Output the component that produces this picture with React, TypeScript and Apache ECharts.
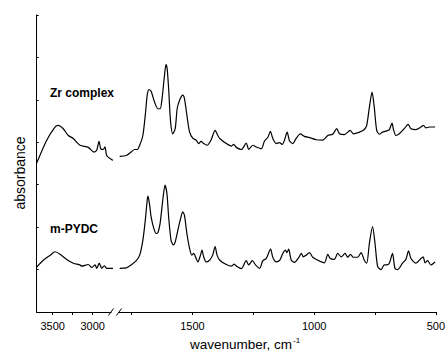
import React, { useEffect, useRef } from "react";
import * as echarts from "echarts";

// wavenumber (cm-1) and absorbance (offset, arbitrary units)
const zrLeftWn = [3700, 3575, 3471, 3430, 3368, 3305, 3243, 3159, 3055, 2984, 2950, 2921, 2900, 2868, 2846, 2825, 2762, 2742];
const zrLeftAbs = [3.51, 4.05, 4.36, 4.4, 4.32, 4.16, 4.09, 3.93, 3.88, 3.77, 3.81, 4.02, 3.85, 3.83, 3.89, 3.69, 3.59, 3.58];

const zrRightWn = [1799, 1772, 1752, 1738, 1727, 1717, 1704, 1694, 1686, 1679, 1670, 1656, 1642, 1633, 1625, 1615, 1609, 1604, 1598, 1590,
  1581, 1571, 1563, 1553, 1540, 1533, 1523, 1512, 1498, 1485, 1475, 1465, 1454, 1440, 1424, 1407, 1396, 1388, 1361, 1340,
  1331, 1320, 1299, 1279, 1269, 1252, 1238, 1217, 1204, 1190, 1180, 1170, 1156, 1142, 1131, 1122, 1111, 1101, 1088, 1074,
  1057, 1040, 1019, 992, 965, 944, 924, 907, 896, 876, 852, 839, 814, 794, 784, 773, 762, 753, 743, 732,
  719, 702, 691, 680, 674, 664, 650, 630, 614, 602, 582, 561, 551, 541, 525, 503];
const zrRightAbs = [3.67, 3.69, 3.77, 3.83, 3.83, 3.93, 4.16, 4.64, 5.11, 5.24, 5.2, 4.95, 4.79, 4.79, 5.03, 5.58, 5.83, 5.73, 5.26, 4.48,
  4.2, 4.32, 4.79, 4.99, 5.11, 5.03, 4.64, 4.24, 4.09, 4.05, 3.97, 4.02, 3.97, 3.93, 4.05, 4.28, 4.16, 4.09, 3.97, 3.91,
  3.95, 3.88, 3.83, 3.98, 3.83, 3.93, 3.89, 3.85, 4.03, 4.12, 4.26, 4.09, 3.97, 3.99, 3.95, 4.05, 4.24, 4.03, 3.97, 4.09,
  4.2, 4.14, 4.11, 4.06, 4.05, 4.16, 4.19, 4.32, 4.2, 4.18, 4.28, 4.2, 4.24, 4.3, 4.4, 4.83, 5.18, 4.83, 4.28, 4.19,
  4.24, 4.27, 4.3, 4.45, 4.3, 4.16, 4.2, 4.32, 4.42, 4.32, 4.3, 4.36, 4.4, 4.34, 4.36, 4.36];

const pyLeftWn = [3700, 3617, 3529, 3471, 3408, 3325, 3242, 3159, 3138, 3055, 3012, 2971, 2950, 2918, 2888, 2855, 2825, 2742];
const pyLeftAbs = [1.06, 1.22, 1.34, 1.42, 1.36, 1.24, 1.15, 1.11, 1.08, 1.12, 1.05, 1.11, 1.03, 1.15, 1.03, 1.09, 1.03, 1.03];

const pyRightWn = [1799, 1772, 1752, 1731, 1717, 1704, 1694, 1686, 1683, 1676, 1670, 1659, 1649, 1642, 1633, 1622, 1613, 1605, 1598, 1588,
  1579, 1571, 1560, 1549, 1540, 1533, 1523, 1512, 1503, 1495, 1485, 1478, 1467, 1461, 1454, 1444, 1430, 1417, 1407, 1399,
  1388, 1361, 1340, 1329, 1317, 1299, 1279, 1269, 1254, 1241, 1224, 1211, 1197, 1179, 1170, 1156, 1141, 1129, 1118, 1112,
  1105, 1094, 1081, 1063, 1053, 1044, 1033, 1019, 1006, 985, 958, 944, 934, 917, 903, 889, 873, 862, 851, 839,
  821, 807, 794, 784, 773, 760, 750, 739, 725, 712, 702, 691, 678, 668, 657, 637, 623, 612, 602, 582,
  561, 552, 544, 534, 520, 503];
const pyRightAbs = [1.03, 1.04, 1.11, 1.21, 1.34, 1.69, 2.16, 2.64, 2.73, 2.52, 2.24, 1.97, 1.85, 1.87, 2.09, 2.64, 2.99, 2.79, 2.24, 1.69,
  1.58, 1.65, 1.93, 2.2, 2.36, 2.28, 1.85, 1.5, 1.34, 1.38, 1.26, 1.18, 1.34, 1.46, 1.3, 1.18, 1.22, 1.34, 1.54, 1.34,
  1.22, 1.12, 1.08, 1.13, 1.07, 1.02, 1.21, 1.11, 1.21, 1.11, 1.03, 1.21, 1.26, 1.48, 1.29, 1.18, 1.22, 1.38, 1.46, 1.4,
  1.48, 1.22, 1.17, 1.29, 1.38, 1.3, 1.34, 1.4, 1.29, 1.22, 1.16, 1.36, 1.26, 1.24, 1.38, 1.3, 1.38, 1.29, 1.36, 1.29,
  1.29, 1.4, 1.22, 1.15, 1.62, 2.01, 1.62, 1.07, 1.0, 1.11, 1.11, 1.15, 1.38, 1.03, 1.0, 1.15, 1.24, 1.44, 1.26, 1.15,
  1.26, 1.3, 1.16, 1.21, 1.11, 1.18];

const leftTicks = [3500, 3250, 3000];
const leftLabels = [3500, 3000];
const rightTicks = [1750, 1500, 1250, 1000, 750, 500];
const rightLabels = [1500, 1000, 500];

const seriesNames = ["Zr complex", "m-PYDC"];

const FONT = "'Liberation Sans', Arial, Helvetica, sans-serif";

const zip = (a: number[], b: number[]) => a.map((v, i) => [v, b[i]]);

export default function App() {
  const ref = useRef<HTMLDivElement>(null);
  useEffect(() => {
    document.body.style.margin = "0";
    if (!ref.current) return;
    const chart = echarts.init(ref.current, undefined, { renderer: "svg" });
    const axisCommon = {
      type: "value" as const,
      inverse: true,
      splitLine: { show: false },
      axisLine: { show: true, lineStyle: { color: "#000", width: 1 } },
    };
    const labelCommon = {
      color: "#000",
      fontSize: 11,
      margin: 8,
      fontFamily: FONT,
      formatter: (v: number) => String(v),
    };
    const line = (xi: number, data: number[][], clip: boolean) => ({
      type: "line",
      xAxisIndex: xi,
      yAxisIndex: xi,
      data,
      showSymbol: false,
      smooth: 0.25,
      clip,
      lineStyle: { color: "#000", width: 1.2 },
      silent: true,
    });
    chart.setOption({
      animation: false,
      grid: [
        { left: 36.7, top: 15, width: 74.4, height: 297 },
        { left: 119, top: 15, width: 317.7, height: 297 },
      ],
      xAxis: [
        {
          ...axisCommon,
          gridIndex: 0,
          min: 2770,
          max: 3700,
          axisTick: { customValues: leftTicks, length: 3, lineStyle: { color: "#000" } },
          axisLabel: { ...labelCommon, customValues: leftLabels },
        },
        {
          ...axisCommon,
          gridIndex: 1,
          min: 500,
          max: 1802,
          axisTick: { customValues: rightTicks, length: 3, lineStyle: { color: "#000" } },
          axisLabel: { ...labelCommon, customValues: rightLabels },
        },
      ],
      yAxis: [
        {
          type: "value",
          gridIndex: 0,
          min: 0,
          max: 7,
          interval: 1,
          axisLine: { show: true, lineStyle: { color: "#000", width: 1 } },
          axisTick: { show: true, inside: true, length: 2, lineStyle: { color: "#000" } },
          axisLabel: { show: false },
          splitLine: { show: false },
        },
        { type: "value", gridIndex: 1, min: 0, max: 7, show: false },
      ],
      series: [
        line(0, zip(zrLeftWn, zrLeftAbs), false),
        line(1, zip(zrRightWn, zrRightAbs), true),
        line(0, zip(pyLeftWn, pyLeftAbs), false),
        line(1, zip(pyRightWn, pyRightAbs), true),
      ],
      graphic: [
        { type: "line", shape: { x1: 108.5, y1: 315.5, x2: 113.5, y2: 308.5 }, style: { stroke: "#000", lineWidth: 1 } },
        { type: "line", shape: { x1: 116.5, y1: 315.5, x2: 121.5, y2: 308.5 }, style: { stroke: "#000", lineWidth: 1 } },
        {
          type: "text",
          x: 50,
          y: 92.5,
          style: { text: seriesNames[0], fontSize: 12, fontWeight: "bold", fontFamily: FONT, fill: "#000", verticalAlign: "middle" },
        },
        {
          type: "text",
          x: 50,
          y: 229,
          style: { text: seriesNames[1], fontSize: 12, fontWeight: "bold", fontFamily: FONT, fill: "#000", verticalAlign: "middle" },
        },
        {
          type: "text",
          x: 20,
          y: 173,
          rotation: Math.PI / 2,
          style: { text: "absorbance", fontSize: 14, fontFamily: FONT, fill: "#000", align: "center", verticalAlign: "middle" },
        },
        {
          type: "text",
          x: 190,
          y: 344,
          style: {
            text: "{a|wavenumber, cm}{b|-1}",
            fontFamily: FONT,
            fill: "#000",
            verticalAlign: "middle",
            rich: {
              a: { fontSize: 13.5, fontFamily: FONT, fill: "#000", lineHeight: 16 },
              b: { fontSize: 8, fontFamily: FONT, fill: "#000", verticalAlign: "top", padding: [0, 0, 0, 1] },
            },
          },
        },
      ],
    });
    return () => chart.dispose();
  }, []);
  return <div ref={ref} style={{ position: "absolute", left: 0, top: 0, width: 448, height: 358 }} />;
}
